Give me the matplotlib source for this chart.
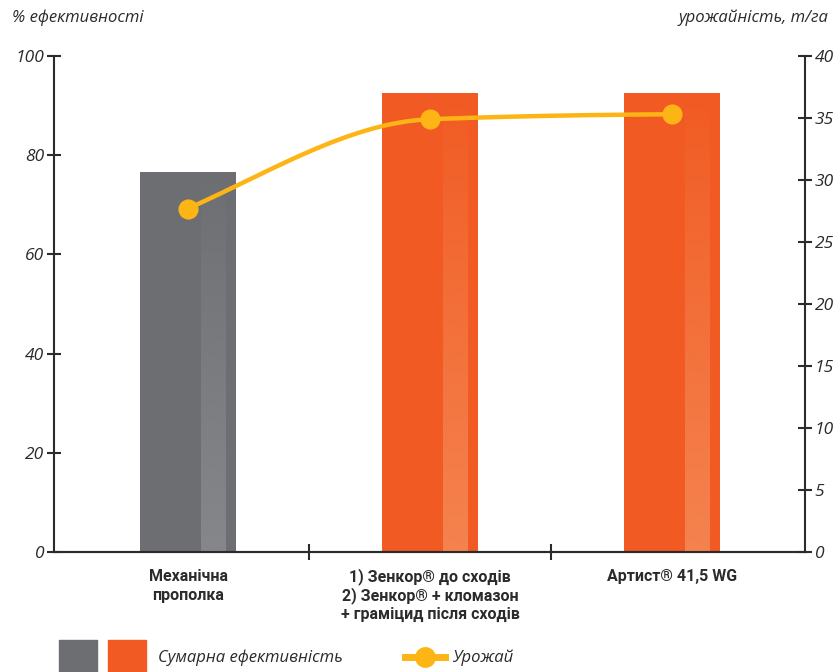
import numpy as np
import matplotlib.pyplot as plt
from matplotlib.lines import Line2D
from matplotlib.patches import Rectangle

# Дані
categories = [['Механічна', 'прополка'],
              ['1) Зенкор® до сходів', '2) Зенкор® + кломазон',
               '+ граміцид після сходів'],
              ['Артист® 41,5 WG']]
efficiency = [76.6, 92.5, 92.5]   # % ефективності
yield_t = [27.7, 34.9, 35.3]      # урожайність, т/га

gray = '#6d6e71'
gray_light = '#86878a'
orange = '#f15a22'
orange_light = '#f5834f'
yellow = '#fdb515'
axis_col = '#2b2b2b'

bar_colors = [gray, orange, orange]
strip_colors = [gray_light, orange_light, orange_light]


def pchip(x, y, xs):
    x = np.asarray(x, float)
    y = np.asarray(y, float)
    h = np.diff(x)
    d = np.diff(y) / h
    m = np.zeros_like(y)
    for k in range(1, len(x) - 1):
        if d[k - 1] * d[k] > 0:
            w1 = 2 * h[k] + h[k - 1]
            w2 = h[k] + 2 * h[k - 1]
            m[k] = (w1 + w2) / (w1 / d[k - 1] + w2 / d[k])
    m[0] = d[0] * 1.2
    m[-1] = d[-1] * 0.3
    out = np.empty_like(xs)
    for i, t in enumerate(xs):
        k = min(np.searchsorted(x, t, side='right') - 1, len(x) - 2)
        s = (t - x[k]) / h[k]
        h00 = 2 * s**3 - 3 * s**2 + 1
        h10 = s**3 - 2 * s**2 + s
        h01 = -2 * s**3 + 3 * s**2
        h11 = s**3 - s**2
        out[i] = h00 * y[k] + h10 * h[k] * m[k] + h01 * y[k + 1] + h11 * h[k] * m[k + 1]
    return out


plt.rcParams['font.family'] = ['Open Sans', 'DejaVu Sans']

fig = plt.figure(figsize=(8.38, 6.72), dpi=100)
ax = fig.add_axes([54 / 838, 120 / 672, 751 / 838, 496 / 672])
ax2 = ax.twinx()

x = np.arange(len(categories))
width = 0.40
ax.bar(x, efficiency, width=width, color=bar_colors, zorder=2)

# світла смуга з градієнтом (знизу світліше)
for xi, h, c in zip(x, efficiency, strip_colors):
    rgb = np.array(plt.matplotlib.colors.to_rgb(c))
    grad = np.linspace(0, 1, 200)[:, None]
    img = np.zeros((200, 1, 4))
    img[..., :3] = rgb
    img[..., 3] = grad ** 0.9
    ax.imshow(img, extent=[xi + 0.054, xi + 0.157, 0, h], aspect='auto',
              origin='upper', zorder=3, interpolation='bilinear')

ax.set_xlim(-0.554, 2.55)
ax.set_ylim(0, 100)
ax2.set_ylim(0, 40)

xs = np.linspace(0, 2, 200)
ax2.plot(xs, pchip(x, yield_t, xs), color=yellow, lw=3.2, zorder=4,
         solid_capstyle='round')
ax2.plot(x, yield_t, 'o', color=yellow, ms=13.5, zorder=5)

for a in (ax, ax2):
    a.spines['top'].set_visible(False)
    for s in a.spines.values():
        s.set_color(axis_col)
        s.set_linewidth(1.5)
ax2.spines['left'].set_visible(False)
ax.spines['right'].set_visible(False)

ax.set_yticks([0, 20, 40, 60, 80, 100])
ax2.set_yticks(range(0, 41, 5))
ax.tick_params(axis='y', direction='inout', length=10, width=1.5, color=axis_col,
               labelsize=12.5, labelcolor='#2a2a2a', pad=2)
ax2.tick_params(axis='y', direction='inout', length=10, width=1.5, color=axis_col,
                labelsize=12.5, labelcolor='#2a2a2a', pad=2)
for lab in ax.get_yticklabels() + ax2.get_yticklabels():
    lab.set_fontstyle('italic')

ax.set_xticks([0.5, 1.5])
ax.set_xticklabels([])
ax.tick_params(axis='x', direction='inout', length=12, width=1.5, color=axis_col)
line_y = [-5.0, -8.8, -12.5]
for xi, lines in zip(x, categories):
    for ly, txt in zip(line_y, lines):
        ax.text(xi, ly, txt, ha='center', va='center', fontsize=11.5,
                fontweight='bold', color='#2b2b2b',
                family=['Roboto', 'DejaVu Sans'])

fig.text(12 / 838, 1 - 18 / 672, '% ефективності', ha='left', va='center',
         fontsize=12, style='italic', color='#2a2a2a')
fig.text(828 / 838, 1 - 18 / 672, 'урожайність, т/га', ha='right', va='center',
         fontsize=12, style='italic', color='#2a2a2a')

# легенда
fig.patches.append(Rectangle((59 / 838, 0), 38 / 838, 32 / 672, color=gray,
                             transform=fig.transFigure, figure=fig))
fig.patches.append(Rectangle((108 / 838, 0), 38 / 838, 32 / 672, color=orange,
                             transform=fig.transFigure, figure=fig))
fig.text(158 / 838, 1 - 658 / 672, 'Сумарна ефективність', ha='left', va='center',
         fontsize=12, style='italic', color='#2a2a2a')
fig.lines.append(Line2D([405 / 838, 445 / 838], [1 - 657 / 672] * 2, color=yellow,
                        lw=5, transform=fig.transFigure, figure=fig))
fig.lines.append(Line2D([425 / 838], [1 - 657 / 672], marker='o', ms=14, color=yellow,
                        transform=fig.transFigure, figure=fig))
fig.text(452 / 838, 1 - 658 / 672, 'Урожай', ha='left', va='center',
         fontsize=12, style='italic', color='#2a2a2a')

fig.savefig('out.png', dpi=100)
